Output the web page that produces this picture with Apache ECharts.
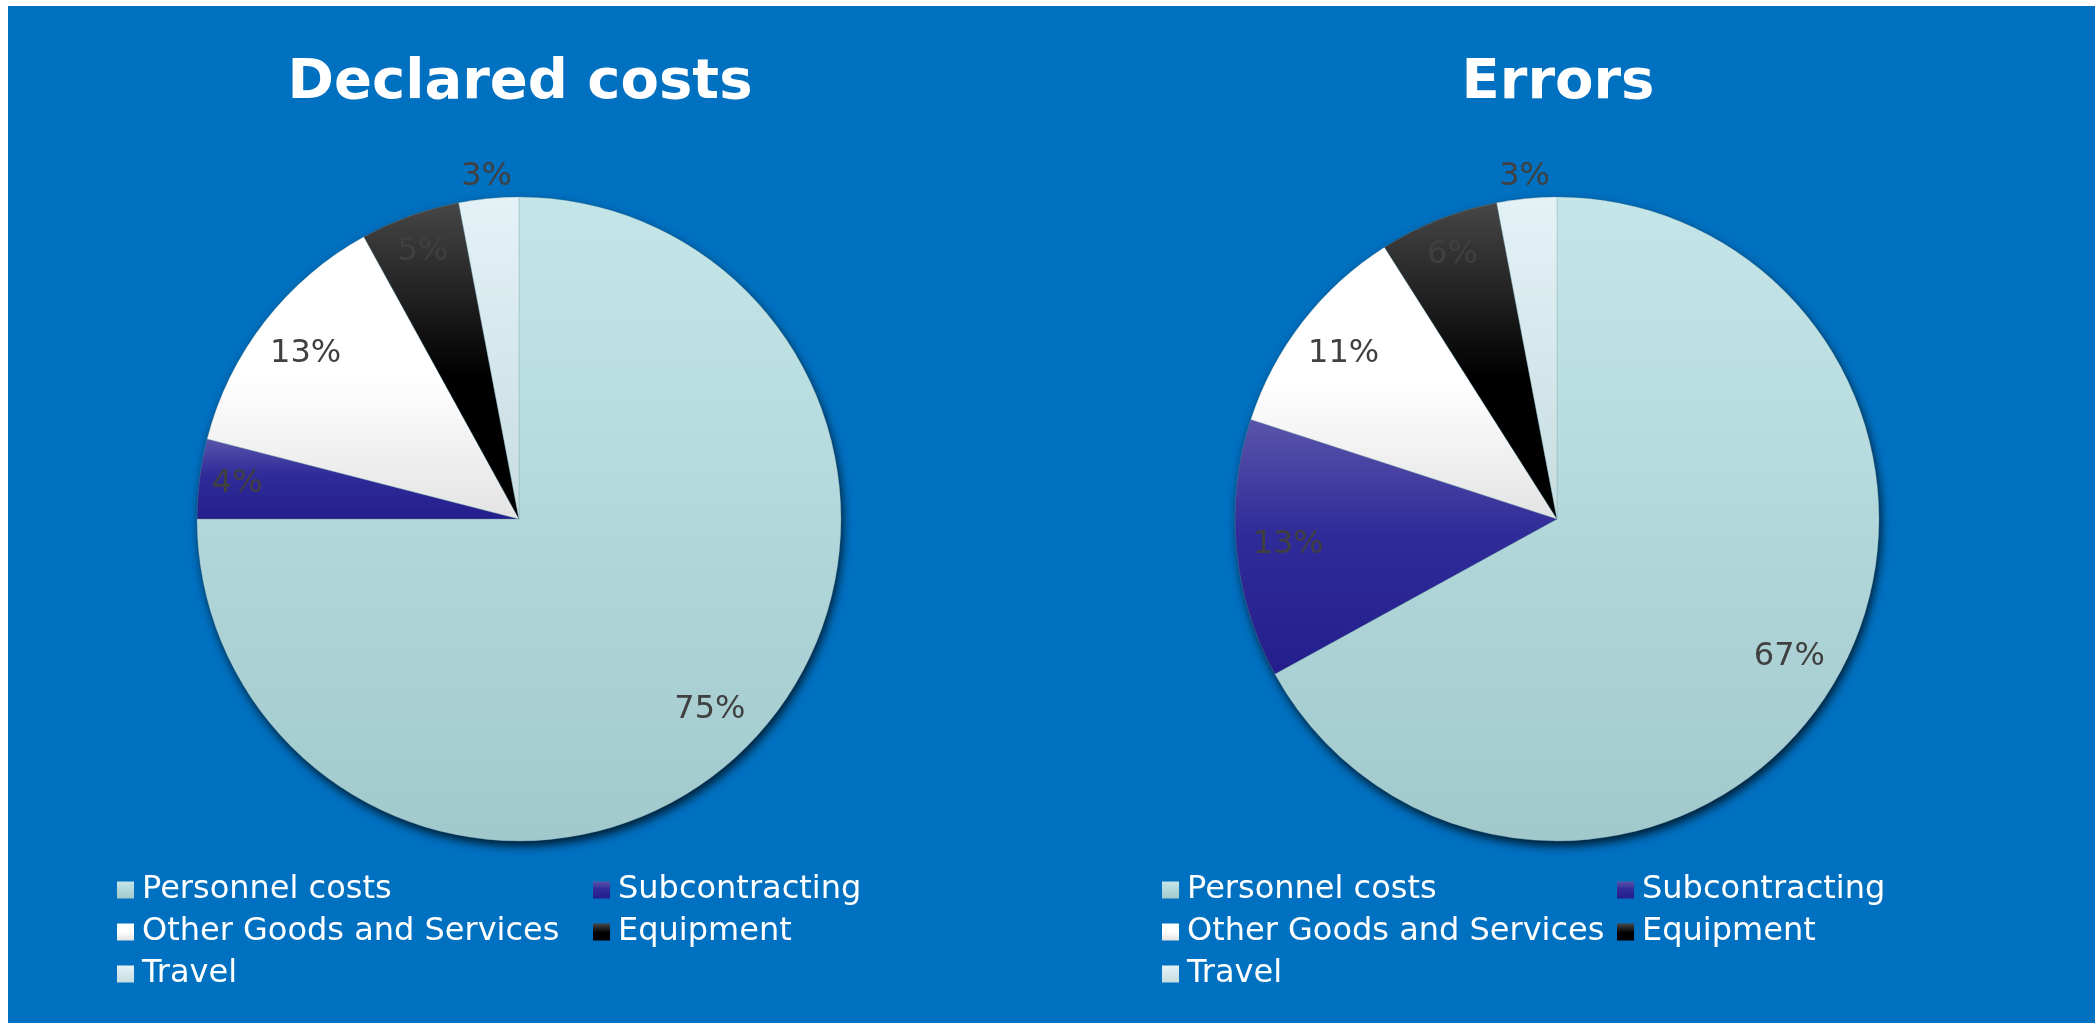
<!DOCTYPE html>
<html>
<head>
<meta charset="utf-8">
<script src="https://cdn.jsdelivr.net/npm/echarts@6/dist/echarts.min.js"></script>
<style>
  html, body { margin: 0; padding: 0; background: #ffffff; width: 2095px; height: 1023px; overflow: hidden; }
  #bg { position: absolute; left: 8px; top: 6px; right: 0; bottom: 0; background: #0070C0; }
  #chart { position: absolute; left: 0; top: 0; width: 2095px; height: 1023px; }
</style>
</head>
<body>
<div id="bg"></div>
<div id="chart"></div>
<script>
// ---- data ----
const categories = ['Personnel costs', 'Subcontracting', 'Other Goods and Services', 'Equipment', 'Travel'];
const chartTitles = ['Declared costs', 'Errors'];
const declaredCosts = [75, 4, 13, 5, 3];
const errors = [67, 13, 11, 6, 3];
const labelOutside = [false, false, false, false, true];
const legendColumn1 = ['Personnel costs', 'Other Goods and Services', 'Travel'];
const legendColumn2 = ['Subcontracting', 'Equipment'];

// ---- styles ----
function grad(stops) {
  return { type: 'linear', x: 0, y: 0, x2: 0, y2: 1, colorStops: stops.map(s => ({ offset: s[0], color: s[1] })) };
}
const sliceColors = [
  grad([[0, '#c5e6e9'], [1, '#a1c9cc']]),
  grad([[0, '#5a54aa'], [0.45, '#2f2b98'], [1, '#231e8b']]),
  grad([[0, '#ffffff'], [0.5, '#ffffff'], [1, '#e3e3e3']]),
  grad([[0, '#474747'], [0.55, '#000000'], [1, '#000000']]),
  grad([[0, '#e4f2f6'], [1, '#c6dde0']])
];
const R = 322;
const centers = [[519, 519], [1557, 519]];
const titleX = [515, 1553];
const legendX = [[117, 593], [1162, 1617]];
const FONT = 'DejaVu Sans';
// label rings: [inner, outer] radius; label sits at the middle of the ring
const ringLarge = [212, R];   // slices of 10% or more
const ringSmall = [240, R];   // slices under 10%
const ringOutside = [R, 360]; // labels placed outside the pie

const chart = echarts.init(document.getElementById('chart'), null, { renderer: 'canvas' });

const series = [];
const titles = [];
const legends = [];

function labelSeries(center, vals, radius, showFn) {
  return {
    type: 'pie', center: center, radius: radius, z: 4, silent: true,
    avoidLabelOverlap: false, labelLine: { show: false }, emphasis: { disabled: true },
    itemStyle: { color: 'rgba(0,0,0,0)', borderWidth: 0 },
    label: { position: 'inside', formatter: '{c}%', color: '#404040', fontFamily: FONT, fontSize: 32 },
    data: categories.map((c, i) => ({ name: c, value: vals[i], label: { show: showFn(i) } }))
  };
}

[declaredCosts, errors].forEach((vals, ci) => {
  const center = centers[ci];
  const total = vals.reduce((a, b) => a + b, 0);
  // main slices
  series.push({
    type: 'pie', name: chartTitles[ci], center: center, radius: [0, R], z: 3,
    silent: true, label: { show: false }, labelLine: { show: false },
    emphasis: { disabled: true },
    data: categories.map((c, i) => ({ name: c, value: vals[i], itemStyle: { color: sliceColors[i] } })),
    itemStyle: { borderWidth: 0.6, borderColor: 'rgba(120,160,170,0.5)' }
  });
  // shadow base
  series.push({
    type: 'pie', center: center, radius: [0, R], z: 2, silent: true,
    label: { show: false }, labelLine: { show: false }, emphasis: { disabled: true },
    data: [{ name: '_base', value: total }],
    itemStyle: { color: '#0a4f80', shadowBlur: 10, shadowOffsetX: 2, shadowOffsetY: 5, shadowColor: 'rgba(0,0,0,0.75)' }
  });
  series.push(labelSeries(center, vals, ringLarge, i => !labelOutside[i] && vals[i] >= 10));
  series.push(labelSeries(center, vals, ringSmall, i => !labelOutside[i] && vals[i] < 10));
  series.push(labelSeries(center, vals, ringOutside, i => labelOutside[i]));

  titles.push({
    text: chartTitles[ci], left: titleX[ci], top: 48, textAlign: 'center',
    textStyle: { color: '#ffffff', fontFamily: FONT, fontWeight: 'bold', fontSize: 56, lineHeight: 60 }
  });
  [legendColumn1, legendColumn2].forEach((col, k) => {
    legends.push({
      orient: 'vertical', left: legendX[ci][k], top: 874, padding: 0, selectedMode: false,
      itemWidth: 17, itemHeight: 17, itemGap: 10, icon: 'rect',
      textStyle: { color: '#ffffff', fontFamily: FONT, fontSize: 32, lineHeight: 32, padding: [0, 0, 0, 3] },
      data: col.map(n => ({ name: n, itemStyle: { color: sliceColors[categories.indexOf(n)], borderWidth: 0 } }))
    });
  });
});

chart.setOption({
  backgroundColor: 'transparent',
  animation: false,
  title: titles,
  legend: legends,
  series: series
});
</script>
</body>
</html>
